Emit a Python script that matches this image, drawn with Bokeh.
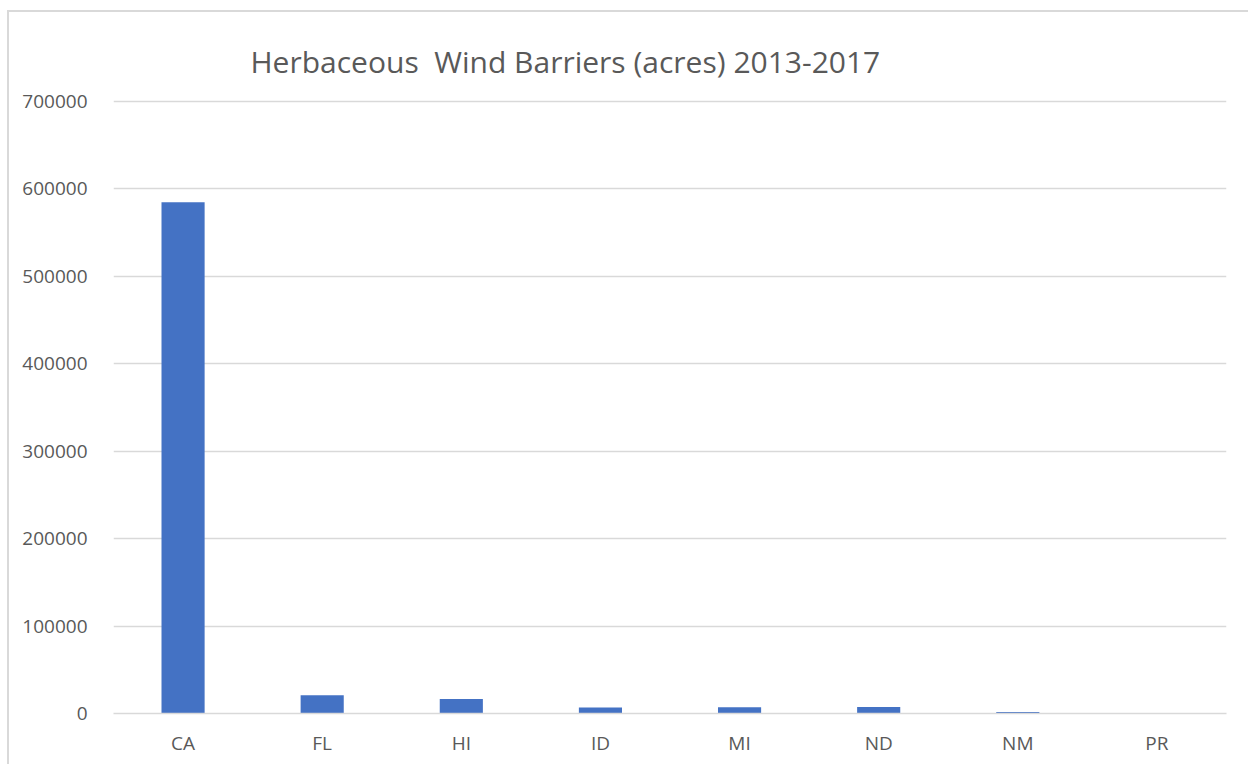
from bokeh.plotting import figure
from bokeh.models import ColumnDataSource, NumeralTickFormatter
from bokeh.embed import file_html
from bokeh.resources import INLINE

# Acres of herbaceous wind barriers by state, 2013-2017
states = ["CA", "FL", "HI", "ID", "MI", "ND", "NM", "PR"]
acres = [584500, 21000, 16500, 7000, 7200, 7500, 1800, 100]

y_ticks = [0, 100000, 200000, 300000, 400000, 500000, 600000, 700000]

source = ColumnDataSource(data=dict(state=states, acres=acres))

text_color = "#595959"
grid_color = "#d9d9d9"
font = "Open Sans"

p = figure(
    x_range=states,
    y_range=(0, 702000),
    width=1241,
    height=754,
    output_backend="svg",
    toolbar_location=None,
    min_border_left=104,
    min_border_right=24,
    min_border_top=87,
    min_border_bottom=53,
    # non-breaking space keeps the wide gap after the first word in SVG text
    title="Herbaceous\u00a0 Wind Barriers (acres) 2013-2017",
)

# light frame around the chart area (top and left edges fall inside the window)
p.styles = {
    "margin-left": "7px",
    "margin-top": "10px",
    "border-top": "2px solid #d9d9d9",
    "border-left": "2px solid #d9d9d9",
}

p.vbar(x="state", top="acres", width=0.31, source=source,
       fill_color="#4472c4", line_color=None)

# title
p.title.align = "left"
p.title.offset = 137
p.title.standoff = 36
p.title.text_font = font
p.title.text_font_size = "30px"
p.title.text_font_style = "normal"
p.title.text_color = text_color

p.outline_line_color = None
p.background_fill_color = "white"
p.border_fill_color = "white"

p.xgrid.grid_line_color = None
p.ygrid.grid_line_color = grid_color
p.ygrid.grid_line_width = 1.5

p.yaxis.ticker = y_ticks
p.yaxis.formatter = NumeralTickFormatter(format="0")
p.yaxis.axis_line_color = None
p.yaxis.major_tick_line_color = None
p.yaxis.minor_tick_line_color = None
p.yaxis.major_label_standoff = 20
p.yaxis.major_label_text_font = font
p.yaxis.major_label_text_font_size = "19px"
p.yaxis.major_label_text_color = text_color

p.xaxis.axis_line_color = grid_color
p.xaxis.axis_line_width = 1.5
p.xaxis.major_tick_line_color = None
p.xaxis.minor_tick_line_color = None
p.xaxis.major_label_standoff = 10
p.xaxis.major_label_text_font = font
p.xaxis.major_label_text_font_size = "19px"
p.xaxis.major_label_text_color = text_color

open("out.html", "w").write(file_html(p, INLINE))
